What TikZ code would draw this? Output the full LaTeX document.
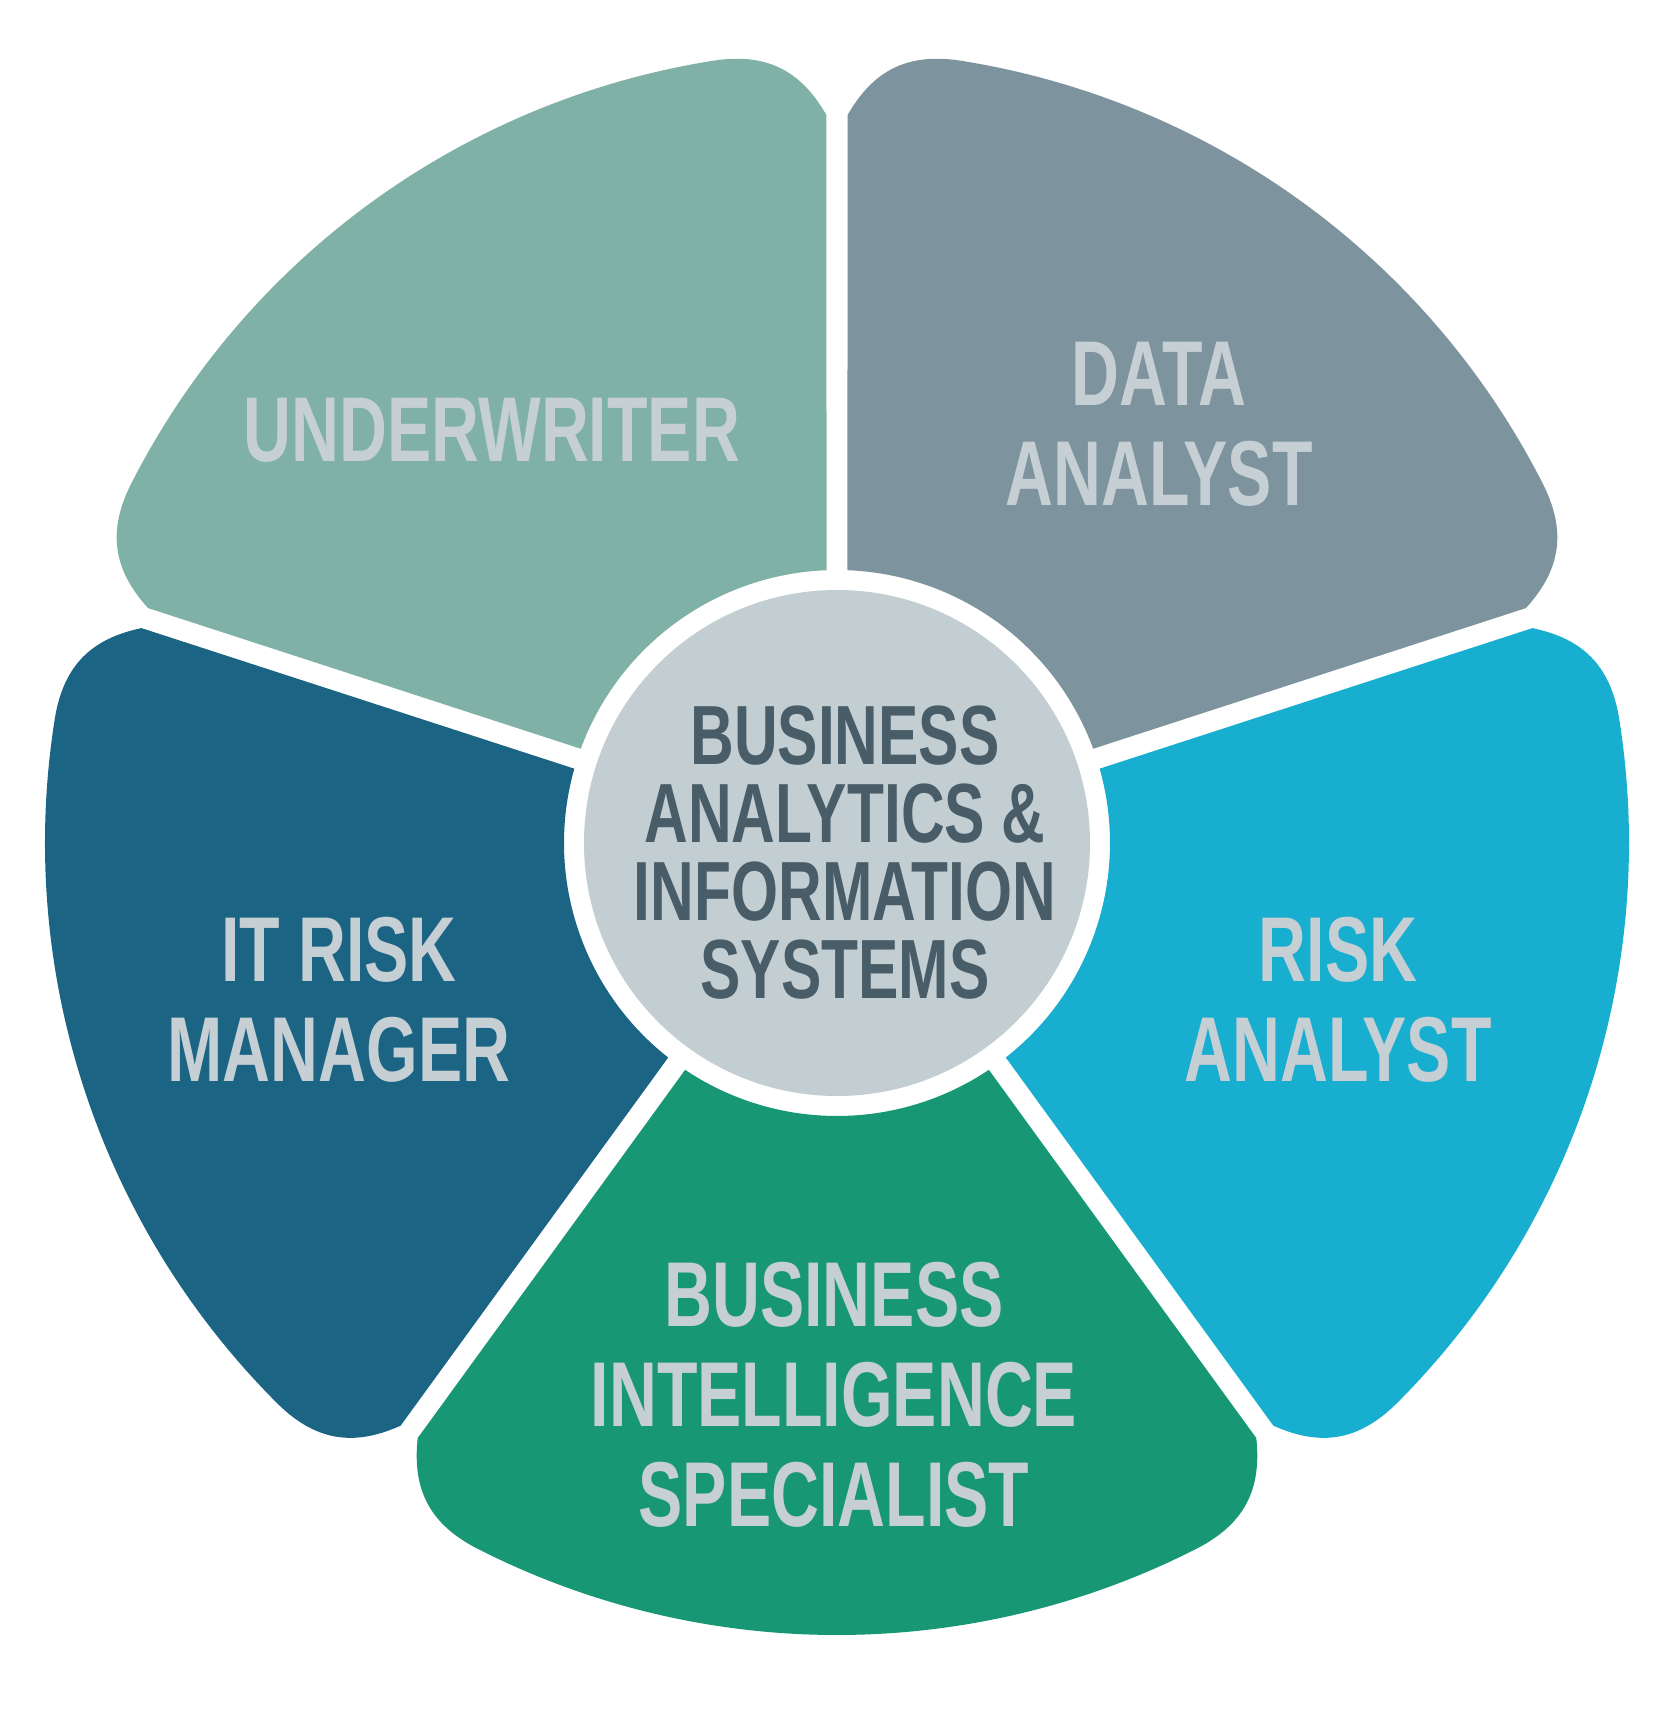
\documentclass[tikz,border=0pt]{standalone}
\usepackage{fontspec}
\usepackage{xcolor}
\usepackage{tikz}
\usetikzlibrary{
  calc,
}
\newfontfamily\gothic[FakeStretch=0.72]{Liberation Sans}
\definecolor{underink}{HTML}{7FB1A6}
\definecolor{dataink}{HTML}{7D939D}
\definecolor{riskink}{HTML}{18AECF}
\definecolor{biink}{HTML}{179773}
\definecolor{itink}{HTML}{1B6483}
\definecolor{hubfill}{HTML}{C3CED3}
\definecolor{pale}{HTML}{C6CFD4}
\definecolor{slate}{HTML}{485D67}
\tikzset{
  role/.style={
    font=\gothic\bfseries\fontsize{26.2}{28.45}\selectfont,
    text=pale,
    align=center,
    inner sep=0pt,
  },
  hubtext/.style={
    font=\gothic\bfseries\fontsize{23.9}{22.2}\selectfont,
    text=slate,
    align=center,
    inner sep=0pt,
  },
}

\begin{document}
\begin{tikzpicture}[x=0.1mm,y=0.1mm]
  \fill[white] (-837,-887) rectangle (834,843);

  % petals: gap angles, colour
  \foreach \a/\b/\c in {
    18/90/dataink,
    90/162/underink,
    162/234/itink,
    234/306/biink,
    306/378/riskink} {
    \fill[\c] ({\a+2.2}:273) -- ({\a+0.83}:728)
      .. controls +({\a+30}:45) and +({\a-81}:60) .. ({\a+9}:792)
      arc[start angle=\a+9, end angle=\b-9, radius=792]
      .. controls +({\b+81}:60) and +({\b-30}:45) .. ({\b-0.83}:728)
      -- ({\b-2.2}:273)
      arc[start angle=\b-2.2, end angle=\a+2.2, radius=273]
      -- cycle;
  }

  \fill[hubfill] (0,0) circle[radius=253];
  \node[hubtext] (hub) at (8,-10) {BUSINESS\\ANALYTICS \&\\INFORMATION\\SYSTEMS};

  \node[role] (underwriter) at (-345,413) {UNDERWRITER};
  \node[role] (data) at (322,419) {DATA\\ANALYST};
  \node[role] (itrisk) at (-498,-157) {IT RISK\\MANAGER};
  \node[role] (risk) at (501,-157) {RISK\\ANALYST};
  \node[role] (bi) at (-3,-552) {BUSINESS\\INTELLIGENCE\\SPECIALIST};
\end{tikzpicture}
\end{document}
